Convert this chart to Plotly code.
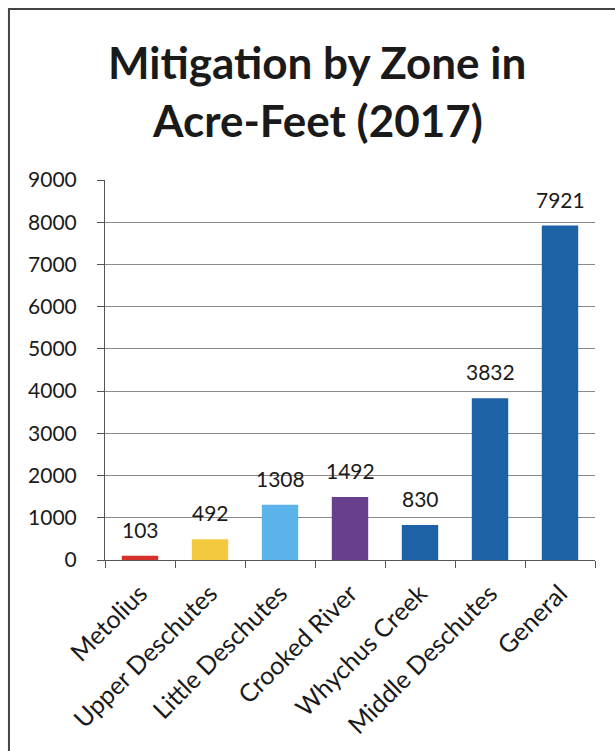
import plotly.graph_objects as go

categories = ["Metolius", "Upper Deschutes", "Little Deschutes", "Crooked River",
              "Whychus Creek", "Middle Deschutes", "General"]
values = [103, 492, 1308, 1492, 830, 3832, 7921]
colors = ["#d8312c", "#f3c940", "#5bb3ea", "#673f8c", "#1d62a6", "#1d62a6", "#1d62a6"]
y_ticks = [0, 1000, 2000, 3000, 4000, 5000, 6000, 7000, 8000, 9000]
title_lines = ["Mitigation by Zone in", "Acre-Feet (2017)"]

FONT = "Lato, 'Open Sans', sans-serif"

fig = go.Figure(go.Bar(
    x=categories, y=values,
    marker=dict(color=colors, line=dict(width=0)),
    width=0.52,
    cliponaxis=False,
))

# data labels above bars
for c, v in zip(categories, values):
    fig.add_annotation(x=c, y=v, xref="x", yref="y", text=str(v), showarrow=False,
                       yanchor="bottom", yshift=12,
                       font=dict(size=21, color="#1a1a1a", family=FONT))

# two-line title
for txt, yy in zip(title_lines, [1.3105, 1.158]):
    fig.add_annotation(x=0.4327, y=yy, xref="paper", yref="paper", text="<b>%s</b>" % txt,
                       showarrow=False, xanchor="center", yanchor="middle",
                       font=dict(size=44, color="#1a1a1a", family=FONT))

fig.update_layout(
    width=615, height=751,
    margin=dict(l=105, r=20, t=180, b=191),
    paper_bgcolor="white", plot_bgcolor="white",
    showlegend=False,
    font=dict(family=FONT, color="#222"),
)

fig.update_yaxes(
    range=[0, 9000], tickvals=y_ticks, ticktext=[str(t) for t in y_ticks],
    showgrid=True, gridcolor="#8a8a8a", gridwidth=1,
    showline=True, linecolor="#555", linewidth=1,
    ticks="outside", ticklen=7, tickcolor="#555",
    tickfont=dict(size=21, color="#1a1a1a", family=FONT),
    ticklabelstandoff=16, zeroline=False,
)
fig.update_xaxes(
    showline=True, linecolor="#555", linewidth=1,
    ticks="outside", ticklen=7, tickcolor="#555", tickson="boundaries",
    tickangle=-45, tickfont=dict(size=25, color="#1a1a1a", family=FONT),
    ticklabelstandoff=8,
)

# outer frame of the scanned chart
fig.add_shape(type="rect", xref="paper", yref="paper",
              x0=-0.196, x1=1.06, y0=-0.6, y1=1.45,
              line=dict(color="#444", width=2), fillcolor="rgba(0,0,0,0)", layer="above")

fig.write_html("out.html")
